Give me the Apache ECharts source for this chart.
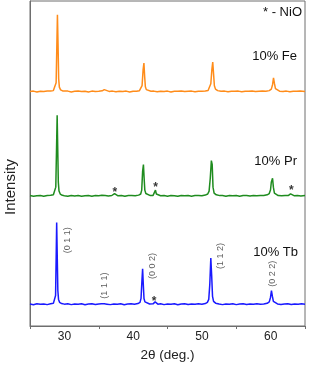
<!DOCTYPE html>
<html>
<head>
<meta charset="utf-8">
<script src="https://cdn.jsdelivr.net/npm/echarts@6/dist/echarts.min.js"></script>
<style>html,body{margin:0;padding:0;background:#fff}#c{width:309px;height:367px}</style>
</head>
<body>
<div id="c"></div>
<script>
// 2θ (deg) / relative intensity pairs
const tbPattern = [[25,0.3],[25.5,-0.4],[26,0.5],[26.5,0],[27,0.4],[27.5,-0.3],[28,0.6],[28.4,1],[28.6,2.5],[28.72,9],[28.8,45],[28.88,83],[28.96,50],[29.05,14],[29.15,5],[29.3,2],[29.6,0.8],[30,0.2],[30.5,0.5],[31,-0.3],[31.5,0.4],[32,0],[32.5,0.5],[33,-0.4],[33.5,0.3],[34,0.5],[34.5,-0.2],[35,0.4],[35.4,0.6],[35.6,1.8],[35.8,0.5],[36.2,0.2],[36.7,-0.3],[37.2,0.4],[37.7,0],[38.2,0.5],[38.7,-0.4],[39.2,0.3],[39.7,0.6],[40.2,0],[40.7,0.8],[41,2],[41.15,6],[41.28,24],[41.38,36],[41.48,20],[41.58,6],[41.72,2.5],[42,1],[42.4,0.3],[42.9,0.5],[43.1,1.5],[43.2,2.5],[43.32,1],[43.6,0.2],[44,0.5],[44.5,-0.3],[45,0.4],[45.5,0],[46,0.5],[46.5,-0.4],[47,0.3],[47.5,0.5],[48,-0.2],[48.5,0.4],[49,0],[49.5,0.5],[50,0.2],[50.5,0.8],[50.8,2],[51,5],[51.15,20],[51.3,47],[51.42,30],[51.55,8],[51.7,3],[52,1.2],[52.5,0.3],[53,-0.3],[53.5,0.4],[54,0],[54.5,0.5],[55,-0.3],[55.5,0.3],[56,0.5],[56.5,-0.2],[57,0.4],[57.5,0],[58,0.5],[58.5,0],[59,0.4],[59.5,1],[59.8,2.5],[59.98,7],[60.12,14],[60.26,8],[60.4,3],[60.6,1.2],[61,0.4],[61.5,-0.2],[62,0.3],[62.5,0.5],[63,-0.2],[63.5,0.4],[64,0],[64.5,0.5],[65,0.2]];
const prPattern = [[25,0.4],[25.5,-0.3],[26,0.3],[26.5,0.6],[27,-0.2],[27.5,0.4],[28,0.7],[28.4,1.2],[28.6,2.5],[28.75,9],[28.85,45],[28.95,82],[29.03,50],[29.12,14],[29.22,5],[29.4,2],[29.7,0.7],[30,0.3],[30.5,-0.3],[31,0.4],[31.5,0],[32,0.5],[32.5,-0.3],[33,0.3],[33.5,0.5],[34,-0.2],[34.5,0.4],[35,0.3],[35.45,0.7],[35.7,2],[35.95,0.6],[36.4,0.1],[36.9,0.5],[37.15,1],[37.3,2.5],[37.45,0.8],[37.8,0.2],[38.3,0.5],[38.8,-0.3],[39.3,0.4],[39.8,0.6],[40.3,0.2],[40.8,0.9],[41.1,2],[41.25,6],[41.38,25],[41.5,32],[41.6,18],[41.7,6],[41.85,2.5],[42.1,1],[42.5,0.4],[42.9,0.6],[43.1,2],[43.25,6],[43.38,2],[43.6,0.5],[44,0.3],[44.5,0.5],[45,-0.2],[45.5,0.4],[46,0.3],[46.5,-0.3],[47,0.5],[47.5,0.2],[48,0.5],[48.5,-0.2],[49,0.4],[49.5,0.6],[50,0.3],[50.5,0.9],[50.85,2],[51.05,5],[51.22,18],[51.38,36],[51.5,32],[51.62,9],[51.78,3],[52.1,1.2],[52.6,0.4],[53,0.5],[53.5,-0.2],[54,0.4],[54.5,0.3],[55,0.6],[55.5,-0.2],[56,0.4],[56.5,0.5],[57,0],[57.5,0.5],[58,0.3],[58.5,0.6],[59,0.5],[59.5,1.2],[59.8,2.5],[59.98,6],[60.1,14],[60.18,12],[60.28,18],[60.4,9],[60.55,3],[60.75,1.3],[61.1,0.5],[61.6,0.2],[62.1,0.5],[62.6,0.6],[62.8,1.5],[62.9,2.2],[63.05,0.8],[63.4,0.3],[63.9,0.5],[64.4,0],[65,0.4]];
const fePattern = [[25,0.2],[25.5,0.5],[26,-0.3],[26.5,0.4],[27,0],[27.5,0.5],[28,0.6],[28.4,1],[28.65,2.5],[28.8,9],[28.9,45],[28.99,78],[29.08,48],[29.17,13],[29.27,4.5],[29.45,1.8],[29.75,0.7],[30,0.3],[30.5,0.5],[31,-0.3],[31.5,0.3],[32,0.5],[32.5,0],[33,0.4],[33.5,-0.3],[34,0.5],[34.5,0.2],[35,0.4],[35.5,0.8],[35.8,2],[36.05,0.7],[36.5,0.2],[37,0.5],[37.5,-0.2],[38,0.4],[38.5,0.2],[39,0.5],[39.5,-0.3],[40,0.4],[40.5,0.3],[40.9,0.8],[41.15,2],[41.3,6],[41.45,22],[41.57,29],[41.68,15],[41.78,5],[41.92,2],[42.2,0.8],[42.6,0.3],[43,0.5],[43.5,-0.2],[44,0.4],[44.5,0.2],[45,0.5],[45.5,-0.3],[46,0.4],[46.5,0.3],[47,0.5],[47.5,0],[48,0.4],[48.5,0.5],[49,-0.2],[49.5,0.4],[50,0.3],[50.5,0.6],[50.9,1.2],[51.15,3],[51.3,8],[51.45,22],[51.58,30],[51.7,18],[51.82,6],[51.98,2.5],[52.3,1],[52.8,0.3],[53.3,0.5],[53.8,-0.2],[54.3,0.4],[54.8,0.3],[55.3,0.5],[55.8,-0.2],[56.3,0.4],[56.8,0.3],[57.3,0.5],[57.8,0],[58.3,0.4],[58.8,0.5],[59.3,0.3],[59.8,1],[60.1,2.5],[60.28,7],[60.42,14],[60.56,8],[60.7,3],[60.9,1.2],[61.3,0.4],[61.8,0],[62.3,0.5],[62.8,-0.2],[63.3,0.4],[63.8,0.3],[64.3,0.5],[65,0.2]];
// vertical offsets of the stacked patterns
const offsetTb = 22;
const offsetPr = 132;
const offsetFe = 238;
// Miller index annotations (Tb pattern)
const hklAngle = [30.4, 35.85, 42.8, 52.65, 60.3];
const hklPos = [87, 41, 61, 71, 53];
const hklText = ['(0 1 1)', '(1 1 1)', '(0 0 2)', '(1 1 2)', '(0 2 2)'];
// NiO star markers
const starAngle = [43.05, 37.35, 43.25, 63.0];
const starPos = [25, 135, 140, 137];
// x axis
const xMin = 25, xMax = 65;
const xTickLabels = [30, 40, 50, 60];

const chart = echarts.init(document.getElementById('c'));
const FONT = 'Liberation Sans, Arial, sans-serif';
const shift = (arr, off) => arr.map(p => [p[0], p[1] + off]);
const lineSeries = (name, data, color) => ({
  name, type: 'line', data, showSymbol: false, symbol: 'none',
  lineStyle: { color, width: 1.5 }, xAxisIndex: 0, yAxisIndex: 0, animation: false, z: 3
});
chart.setOption({
  animation: false,
  grid: { left: 30, right: 4, top: 1, bottom: 36, show: true, borderColor: '#6e6e6e', borderWidth: 1 },
  xAxis: [{
    type: 'value', min: xMin, max: xMax, interval: 5,
    axisLine: { show: true, lineStyle: { color: '#6e6e6e', width: 1 } },
    axisTick: { show: false },
    splitLine: { show: false },
    axisLabel: { color: '#222', fontSize: 12, fontFamily: FONT, margin: 5,
      formatter: v => xTickLabels.indexOf(v) >= 0 ? String(v) : '' },
    name: '2θ (deg.)', nameLocation: 'middle', nameGap: 22,
    nameTextStyle: { color: '#222', fontSize: 13.5, fontFamily: FONT }
  }, {
    type: 'value', min: 0, max: xMax - xMin, interval: 10, position: 'bottom',
    axisLine: { show: false }, axisLabel: { show: false }, splitLine: { show: false },
    axisTick: { show: true, length: 3, lineStyle: { color: '#6e6e6e' } }
  }],
  yAxis: {
    type: 'value', min: 0, max: 330,
    axisLine: { show: true, lineStyle: { color: '#6e6e6e' } },
    axisTick: { show: false }, axisLabel: { show: false }, splitLine: { show: false }
  },
  graphic: [
    { type: 'text', x: 10.5, y: 187, rotation: Math.PI / 2,
      style: { text: 'Intensity', font: '15px ' + FONT, fill: '#222', align: 'center', verticalAlign: 'middle' } },
    { type: 'text', x: 302, y: 12, style: { text: '* - NiO', font: '13px ' + FONT, fill: '#111', align: 'right', verticalAlign: 'middle' } },
    { type: 'text', x: 297, y: 56, style: { text: '10% Fe', font: '13px ' + FONT, fill: '#111', align: 'right', verticalAlign: 'middle' } },
    { type: 'text', x: 297, y: 161, style: { text: '10% Pr', font: '13px ' + FONT, fill: '#111', align: 'right', verticalAlign: 'middle' } },
    { type: 'text', x: 298, y: 252, style: { text: '10% Tb', font: '13px ' + FONT, fill: '#111', align: 'right', verticalAlign: 'middle' } }
  ],
  series: [
    lineSeries('10% Fe', shift(fePattern, offsetFe), '#ff8c1a'),
    lineSeries('10% Pr', shift(prPattern, offsetPr), '#1f8c1f'),
    lineSeries('10% Tb', shift(tbPattern, offsetTb), '#1a1aff'),
    {
      type: 'scatter', symbolSize: 0, animation: false, z: 5,
      data: hklAngle.map((a, i) => ({ value: [a, hklPos[i]], label: { formatter: hklText[i] } })),
      label: { show: true, position: 'inside', rotate: 90, color: '#333', fontSize: 9, fontFamily: FONT }
    },
    {
      type: 'scatter', symbolSize: 0, animation: false, z: 5,
      data: starAngle.map((a, i) => [a, starPos[i]]),
      label: { show: true, position: 'inside', formatter: '*', color: '#000', fontSize: 12, fontWeight: 'bold', fontFamily: FONT }
    }
  ]
});
</script>
</body>
</html>
